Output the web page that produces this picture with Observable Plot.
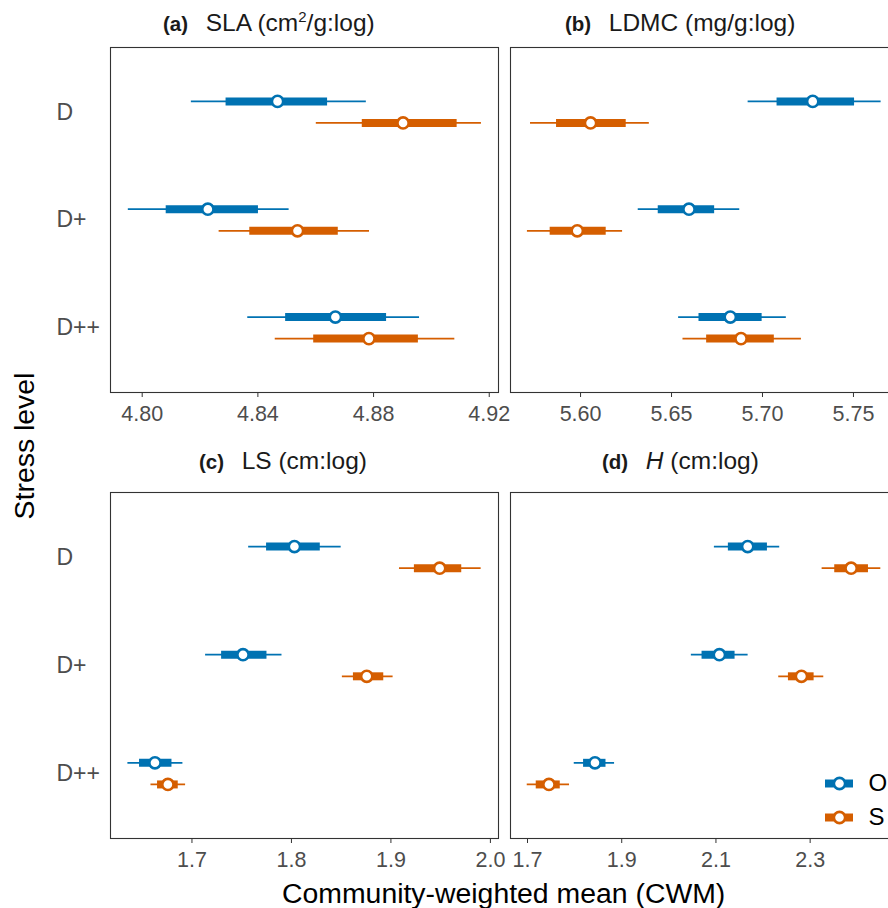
<!DOCTYPE html>
<html>
<head>
<meta charset="utf-8">
<script src="https://cdn.jsdelivr.net/npm/d3@7"></script>
<script src="https://cdn.jsdelivr.net/npm/@observablehq/plot@0.6"></script>
<style>
  html, body { margin: 0; padding: 0; background: #fff; }
  #wrap { position: relative; width: 888px; height: 908px; overflow: hidden; background: #fff;
          font-family: "Liberation Sans", Arial, Helvetica, sans-serif; }
  .ttl { position: absolute; font-size: 24.5px; line-height: 28px; color: #1a1a1a; white-space: pre; }
  .ttl b { font-size: 20.5px; margin-right: 4px; }
  .ttl sup { font-size: 15px; line-height: 0; vertical-align: 9px; }
  .axt { position: absolute; font-size: 28.4px; color: #000; white-space: nowrap; }
</style>
</head>
<body>
<div id="wrap"></div>
<script>
// ---- data ----
const levels = ["D", "D+", "D++"];
const seriesNames = ["O", "S"];
const seriesColors = ["#0072B2", "#D55E00"];

// each row (per stress level): [lower 95%, lower 50%, mean, upper 50%, upper 95%]
const slaO  = [[4.8170, 4.8290, 4.8468, 4.8641, 4.8775], [4.7952, 4.8083, 4.8227, 4.8402, 4.8508], [4.8365, 4.8496, 4.8668, 4.8845, 4.8959]];
const slaS  = [[4.8602, 4.8761, 4.8902, 4.9089, 4.9173], [4.8266, 4.8372, 4.8537, 4.8678, 4.8786], [4.8460, 4.8593, 4.8784, 4.8955, 4.9081]];
const ldmcO = [[5.6921, 5.7080, 5.7276, 5.7506, 5.7652], [5.6317, 5.6427, 5.6596, 5.6737, 5.6875], [5.6539, 5.6651, 5.6823, 5.6998, 5.7131]];
const ldmcS = [[5.5725, 5.5868, 5.6055, 5.6251, 5.6378], [5.5708, 5.5833, 5.5982, 5.6141, 5.6231], [5.6563, 5.6693, 5.6882, 5.7065, 5.7214]];
const lsO   = [[1.7570, 1.7750, 1.8030, 1.8290, 1.8500], [1.7137, 1.7298, 1.7513, 1.7754, 1.7905], [1.6356, 1.6473, 1.6628, 1.6799, 1.6909]];
const lsS   = [[1.9086, 1.9236, 1.9490, 1.9712, 1.9907], [1.8512, 1.8623, 1.8757, 1.8928, 1.9022], [1.6588, 1.6654, 1.6758, 1.6862, 1.6936]];
const hO    = [[2.0967, 2.1264, 2.1674, 2.2093, 2.2354], [2.0478, 2.0705, 2.1073, 2.1406, 2.1683], [1.7992, 1.8190, 1.8432, 1.8666, 1.8848]];
const hS    = [[2.3254, 2.3522, 2.3870, 2.4238, 2.4500], [2.2333, 2.2539, 2.2815, 2.3084, 2.3289], [1.6994, 1.7185, 1.7455, 1.7695, 1.7892]];

const slaTicks  = [4.80, 4.84, 4.88, 4.92];
const ldmcTicks = [5.60, 5.65, 5.70, 5.75];
const lsTicks   = [1.7, 1.8, 1.9, 2.0];
const hTicks    = [1.7, 1.9, 2.1, 2.3];

const slaDomain  = [4.78904, 4.92320];
const ldmcDomain = [5.56150, 5.77475];
const lsDomain   = [1.61811, 2.00815];
const hDomain    = [1.66388, 2.48755];

// ---- helpers ----
const FONT = '"Liberation Sans", Arial, Helvetica, sans-serif';
const dodge = {O: -0.1, S: 0.1};

function rows(oArr, sArr) {
  const out = [];
  [["O", oArr], ["S", sArr]].forEach(([s, arr]) => {
    arr.forEach((v, i) => {
      out.push({level: levels[i], series: s, yPos: i + dodge[s],
                lo95: v[0], lo50: v[1], mean: v[2], hi50: v[3], hi95: v[4]});
    });
  });
  return out;
}

function panel({data, domain, ticks, decimals, left, top, width, height, mL, mR, mT, mB, yLabels}) {
  const marks = [
    Plot.ruleY(data, {y: "yPos", x1: "lo95", x2: "hi95", stroke: "series", strokeWidth: 1.8}),
    Plot.ruleY(data, {y: "yPos", x1: "lo50", x2: "hi50", stroke: "series", strokeWidth: 8}),
    Plot.dot(data, {x: "mean", y: "yPos", r: 5.6, fill: "white", stroke: "series", strokeWidth: 2.6}),
    Plot.frame({stroke: "#333", strokeWidth: 1.1}),
    Plot.axisX({ticks, tickFormat: d => d.toFixed(decimals), tickSize: 5, tickPadding: 8,
                fontSize: 21.5, stroke: "#333", fill: "#4d4d4d", label: null})
  ];
  if (yLabels) {
    marks.push(Plot.text(levels, {y: (d, i) => i, text: d => d, frameAnchor: "left",
      textAnchor: "start", dx: -54, fontSize: 23, fill: "#4d4d4d"}));
  }
  const p = Plot.plot({
    width, height, marginLeft: mL, marginRight: mR, marginTop: mT, marginBottom: mB,
    style: {fontFamily: FONT, background: "transparent", overflow: "visible"},
    x: {domain, axis: null},
    y: {domain: [2.6, -0.6], axis: null},
    color: {domain: seriesNames, range: seriesColors},
    marks
  });
  p.style.position = "absolute";
  p.style.left = left + "px";
  p.style.top = top + "px";
  return p;
}

const wrap = document.getElementById("wrap");

wrap.appendChild(panel({data: rows(slaO, slaS), domain: slaDomain, ticks: slaTicks, decimals: 2,
  left: 0, top: 0, width: 510, height: 440, mL: 110, mR: 12, mT: 47, mB: 48, yLabels: true}));
wrap.appendChild(panel({data: rows(ldmcO, ldmcS), domain: ldmcDomain, ticks: ldmcTicks, decimals: 2,
  left: 500, top: 0, width: 398, height: 440, mL: 10, mR: 0, mT: 47, mB: 48, yLabels: false}));
wrap.appendChild(panel({data: rows(lsO, lsS), domain: lsDomain, ticks: lsTicks, decimals: 1,
  left: 0, top: 450, width: 510, height: 430, mL: 110, mR: 12, mT: 42, mB: 42, yLabels: true}));
wrap.appendChild(panel({data: rows(hO, hS), domain: hDomain, ticks: hTicks, decimals: 1,
  left: 500, top: 450, width: 398, height: 430, mL: 10, mR: 0, mT: 42, mB: 42, yLabels: false}));

// legend (inside panel d)
const legendData = seriesNames.map(s => ({series: s, x1: 0, x2: 1, xm: 0.5}));
const leg = Plot.plot({
  width: 68, height: 70, marginLeft: 5, marginRight: 35, marginTop: 0, marginBottom: 0,
  style: {fontFamily: FONT, background: "transparent", overflow: "visible"},
  x: {domain: [0, 1], axis: null},
  y: {type: "point", domain: seriesNames, range: [17.7, 51.7], padding: 0, axis: null},
  color: {domain: seriesNames, range: seriesColors},
  marks: [
    Plot.ruleY(legendData, {y: "series", x1: "x1", x2: "x2", stroke: "series", strokeWidth: 8}),
    Plot.dot(legendData, {x: "xm", y: "series", r: 5.6, fill: "white", stroke: "series", strokeWidth: 2.6}),
    Plot.text(legendData, {x: "x2", y: "series", text: "series", dx: 15, textAnchor: "start", fontSize: 24, fill: "#000"})
  ]
});
leg.style.position = "absolute";
leg.style.left = "820px";
leg.style.top = "765px";
wrap.appendChild(leg);

// titles
function addHTML(html, cls, css) {
  const d = document.createElement("div");
  d.className = cls;
  d.innerHTML = html;
  Object.assign(d.style, css);
  wrap.appendChild(d);
}
addHTML('<b>(a)</b>  SLA (cm<sup>2</sup>/g:log)', "ttl", {left: "163px", top: "9px"});
addHTML('<b>(b)</b>  LDMC (mg/g:log)', "ttl", {left: "565px", top: "9px"});
addHTML('<b>(c)</b>  LS (cm:log)', "ttl", {left: "199px", top: "447px"});
addHTML('<b>(d)</b>  <i>H</i> (cm:log)', "ttl", {left: "602px", top: "447px"});

addHTML('Community-weighted mean (CWM)', "axt", {left: "282px", top: "876px", lineHeight: "34px"});
addHTML('Stress level', "axt", {left: "24px", top: "446px", lineHeight: "34px",
  transform: "translate(-50%, -50%) rotate(-90deg)"});
</script>
</body>
</html>
